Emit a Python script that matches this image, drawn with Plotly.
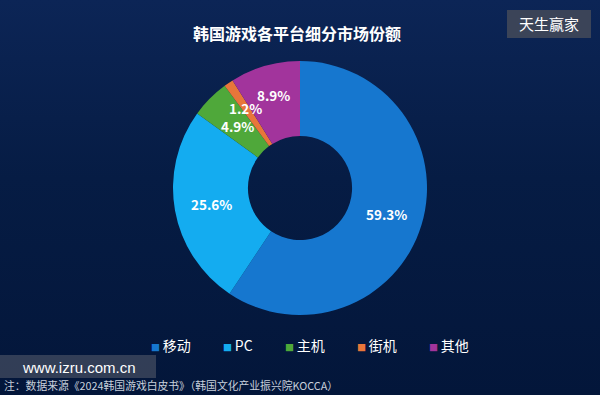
import math
import urllib.parse
import plotly.graph_objects as go

categories = ["移动", "PC", "主机", "街机", "其他"]
shares = [59.3, 25.6, 4.9, 1.2, 8.9]
colors = ["#1677cf", "#14acf0", "#4fa83a", "#e8763a", "#a2349c"]

title_text = "韩国游戏各平台细分市场份额"
note_text = "注：数据来源《2024韩国游戏白皮书》（韩国文化产业振兴院KOCCA）"
badge_text = "天生赢家"
site_text = "www.izru.com.cn"

FONT = "Noto Sans CJK SC"
W, H = 600, 395
CX, CY, R = 300, 188, 127      # pie centre / radius in pixels (layout only)
LABEL_R = [90, 90, 88, 97, 97]  # label distance from centre per slice (layout only)

fig = go.Figure(go.Pie(
    labels=categories,
    values=shares,
    marker=dict(colors=colors, line=dict(width=0)),
    hole=0.41,
    sort=False,
    direction="clockwise",
    rotation=0,
    textinfo="none",
    domain=dict(x=[(CX - R) / W, (CX + R) / W],
                y=[(H - CY - R) / H, (H - CY + R) / H]),
    hoverinfo="label+percent",
    showlegend=False,
))

annotations = [
    dict(text=f"<b>{title_text}</b>", x=297 / W, y=1 - 33 / H,
         xref="paper", yref="paper", showarrow=False,
         font=dict(family=FONT, size=16, color="white"),
         xanchor="center", yanchor="middle"),
    dict(text=badge_text, x=549 / W, y=1 - 24 / H,
         xref="paper", yref="paper", showarrow=False,
         font=dict(family=FONT, size=15, color="white"),
         xanchor="center", yanchor="middle"),
    dict(text=site_text, x=20 / W, y=1 - 367 / H,
         xref="paper", yref="paper", showarrow=False,
         font=dict(family="Liberation Sans", size=15, color="white"),
         xanchor="left", yanchor="middle"),
    dict(text=note_text, x=2 / W, y=1 - 385 / H,
         xref="paper", yref="paper", showarrow=False,
         font=dict(family=FONT, size=10.8, color="#c8d0dc"),
         xanchor="left", yanchor="middle"),
]

# value labels at each slice's mid angle
total = sum(shares)
cum = 0.0
for i, v in enumerate(shares):
    mid = (cum + v / 2) / total * 2 * math.pi
    cum += v
    r = LABEL_R[i]
    px = CX + r * math.sin(mid)
    py = CY - r * math.cos(mid)
    annotations.append(dict(
        text=f"<b>{v:.1f}%</b>", x=px / W, y=1 - py / H, xref="paper", yref="paper",
        showarrow=False, xanchor="center", yanchor="middle",
        font=dict(family=FONT, size=13.5, color="white")))


def text_w(s, size=14):
    return sum(size if ord(c) > 255 else size * 0.63 for c in s)


# legend built from categories / colours
x = 149.0
LEG_Y = 345
for cat, col in zip(categories, colors):
    annotations.append(dict(
        text=f"<span style='color:{col};font-size:9px'>■</span>\u2009{cat}",
        x=x / W, y=1 - LEG_Y / H,
        xref="paper", yref="paper", showarrow=False,
        xanchor="left", yanchor="middle",
        font=dict(family=FONT, size=14, color="white")))
    x += 9 + text_w(cat) + 35

svg = ("<svg xmlns='http://www.w3.org/2000/svg' width='600' height='395'>"
       "<defs><linearGradient id='g' x1='0' y1='0' x2='0' y2='1'>"
       "<stop offset='0' stop-color='#0c2556'/>"
       "<stop offset='0.45' stop-color='#061c44'/>"
       "<stop offset='1' stop-color='#03163a'/>"
       "</linearGradient></defs>"
       "<rect width='600' height='395' fill='url(#g)'/></svg>")
bg_uri = "data:image/svg+xml;charset=utf-8," + urllib.parse.quote(svg)

fig.update_layout(
    width=W, height=H,
    margin=dict(l=0, r=0, t=0, b=0),
    paper_bgcolor="#061a40",
    plot_bgcolor="#061a40",
    font=dict(family=FONT, color="white"),
    showlegend=False,
    images=[dict(source=bg_uri, xref="paper", yref="paper", x=0, y=1,
                 sizex=1, sizey=1, sizing="stretch", layer="below",
                 xanchor="left", yanchor="top")],
    shapes=[
        dict(type="rect", xref="paper", yref="paper",
             x0=507 / W, x1=591 / W, y0=1 - 38 / H, y1=1 - 10 / H,
             fillcolor="#3b4458", line=dict(width=0), layer="below"),
        dict(type="rect", xref="paper", yref="paper",
             x0=0, x1=156 / W, y0=1 - 378 / H, y1=1 - 355 / H,
             fillcolor="rgba(90,95,110,0.55)", line=dict(width=0), layer="above"),
    ],
    annotations=annotations,
)

fig.write_html("out.html",
               config=dict(displayModeBar=False),
               post_script="document.body.style.margin='0';document.body.style.overflow='hidden';")
